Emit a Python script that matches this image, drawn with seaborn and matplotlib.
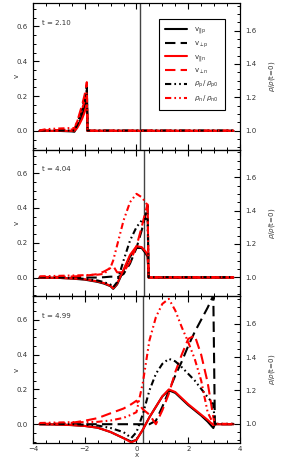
import numpy as np
import matplotlib
matplotlib.use("Agg")
import matplotlib.pyplot as plt
import seaborn as sns
from matplotlib.ticker import MultipleLocator

# times shown in the three panels and position of the vertical marker
times = ["2.10", "4.04", "4.99"]
marker_x = [0.14, 0.30, 0.26]

# panel 1 (t = 2.10)
x1 = [-3.75, -3.5, -3.0, -2.5, -2.4, -2.3, -2.2, -2.1, -2.0, -1.95, -1.92, -1.89, -1.5, -1.0, 0.0, 1.0, 2.0, 3.0, 3.75]
vpar_p1 = [0, 0, 0, -0.003, -0.005, 0.02, 0.05, 0.09, 0.14, 0.18, 0.2, 0, 0, 0, 0, 0, 0, 0, 0]
vperp_p1 = [0, 0, 0, 0, 0.005, 0.04, 0.08, 0.13, 0.19, 0.23, 0.26, 0, 0, 0, 0, 0, 0, 0, 0]
vpar_n1 = [0, 0, 0, 0, 0, 0.015, 0.04, 0.07, 0.11, 0.14, 0.15, 0, 0, 0, 0, 0, 0, 0, 0]
vperp_n1 = [0, 0.003, 0.005, 0.008, 0.01, 0.05, 0.1, 0.15, 0.21, 0.25, 0.28, 0, 0, 0, 0, 0, 0, 0, 0]
rho_p1 = [1, 1, 1, 1, 1, 1.03, 1.07, 1.11, 1.17, 1.21, 1.24, 1, 1, 1, 1, 1, 1, 1, 1]
rho_n1 = [1, 1.008, 1.012, 1.015, 1.015, 1.05, 1.09, 1.13, 1.18, 1.21, 1.23, 1, 1, 1, 1, 1, 1, 1, 1]

# panel 2 (t = 4.04)
x2 = [-3.75, -3.0, -2.5, -2.0, -1.5, -1.25, -1.0, -0.9, -0.75, -0.5, -0.25, 0.0, 0.2, 0.35, 0.43, 0.47, 1.0, 2.0, 3.0, 3.75]
vpar_p2 = [0, -0.002, -0.006, -0.012, -0.025, -0.035, -0.05, -0.065, -0.04, 0.04, 0.12, 0.17, 0.17, 0.14, 0.12, 0, 0, 0, 0, 0]
vperp_p2 = [0, 0, 0, 0, 0, 0.002, 0.005, 0.005, 0.0, 0.02, 0.08, 0.17, 0.27, 0.36, 0.41, 0, 0, 0, 0, 0]
vpar_n2 = [0, -0.002, -0.005, -0.01, -0.022, -0.032, -0.048, -0.062, -0.035, 0.045, 0.13, 0.18, 0.175, 0.15, 0.13, 0, 0, 0, 0, 0]
vperp_n2 = [0.003, 0.004, 0.006, 0.01, 0.02, 0.035, 0.055, 0.067, 0.03, 0.03, 0.09, 0.18, 0.29, 0.38, 0.42, 0, 0, 0, 0, 0]
rho_p2 = [1, 0.998, 0.995, 0.99, 0.98, 0.97, 0.955, 0.94, 0.97, 1.1, 1.22, 1.3, 1.34, 1.35, 1.35, 1, 1, 1, 1, 1]
rho_n2 = [1.005, 1.008, 1.01, 1.012, 1.015, 1.02, 1.06, 1.1, 1.19, 1.34, 1.45, 1.5, 1.48, 1.45, 1.43, 1, 1, 1, 1, 1]

# panel 3 (t = 4.99)
x3 = [-3.75, -3.0, -2.5, -2.0, -1.5, -1.0, -0.5, -0.2, 0.0, 0.25, 0.5, 0.75, 1.0, 1.25, 1.5, 1.75, 2.0, 2.25, 2.5, 2.75, 2.97, 3.03, 3.4, 3.75]
vpar_p3 = [0, -0.002, -0.005, -0.01, -0.02, -0.045, -0.08, -0.1, -0.09, -0.03, 0.04, 0.1, 0.16, 0.195, 0.18, 0.145, 0.11, 0.08, 0.05, 0.015, -0.022, 0, 0, 0]
vperp_p3 = [0, 0, 0, 0, 0, 0, 0, 0, 0, 0, 0, 0.02, 0.1, 0.19, 0.28, 0.36, 0.45, 0.53, 0.6, 0.67, 0.74, 0, 0, 0]
vpar_n3 = [0, -0.002, -0.005, -0.01, -0.02, -0.045, -0.08, -0.105, -0.09, -0.03, 0.04, 0.1, 0.16, 0.2, 0.185, 0.15, 0.115, 0.085, 0.055, 0.025, -0.005, 0, 0, 0]
vperp_n3 = [0.002, 0.004, 0.008, 0.02, 0.035, 0.063, 0.09, 0.115, 0.135, 0.085, 0.055, 0.0, 0.08, 0.175, 0.3, 0.4, 0.49, 0.51, 0.4, 0.24, 0.04, 0, 0, 0]
rho_p3 = [1, 1, 0.998, 0.995, 0.99, 0.975, 0.95, 0.915, 0.95, 1.06, 1.2, 1.3, 1.36, 1.39, 1.375, 1.34, 1.3, 1.26, 1.21, 1.16, 1.12, 1, 1, 1]
rho_n3 = [1.005, 1.008, 1.01, 1.01, 1.012, 1.02, 1.036, 1.055, 1.07, 1.25, 1.5, 1.64, 1.72, 1.75, 1.68, 1.58, 1.49, 1.39, 1.26, 1.07, 1.0, 1.0, 1.0, 1.0]

xs = [x1, x2, x3]
vpar_p = [vpar_p1, vpar_p2, vpar_p3]
vperp_p = [vperp_p1, vperp_p2, vperp_p3]
vpar_n = [vpar_n1, vpar_n2, vpar_n3]
vperp_n = [vperp_n1, vperp_n2, vperp_n3]
rho_p = [rho_p1, rho_p2, rho_p3]
rho_n = [rho_n1, rho_n2, rho_n3]

labels = [r"v$_{||\mathrm{p}}$", r"v$_{\perp\mathrm{p}}$", r"v$_{||\mathrm{n}}$", r"v$_{\perp\mathrm{n}}$",
          r"$\rho_\mathrm{p}\,/\,\rho_\mathrm{p0}$", r"$\rho_\mathrm{n}\,/\,\rho_\mathrm{n0}$"]

sns.set_style("ticks")
plt.rcParams.update({
    "font.family": ["DejaVu Sans"],
    "font.size": 5,
    "xtick.direction": "in",
    "ytick.direction": "in",
    "xtick.major.size": 4.5,
    "ytick.major.size": 4.5,
    "xtick.minor.size": 2.3,
    "ytick.minor.size": 2.3,
    "xtick.major.width": 0.8,
    "ytick.major.width": 0.8,
    "xtick.minor.width": 0.7,
    "ytick.minor.width": 0.7,
    "xtick.major.pad": 2.5,
    "ytick.major.pad": 4,
    "axes.linewidth": 0.8,
    "axes.edgecolor": "black",
    "text.color": "#333333",
    "xtick.color": "black",
    "ytick.color": "black",
    "xtick.labelcolor": "#333333",
    "ytick.labelcolor": "#333333",
    "axes.labelcolor": "#333333",
})

fig, axes = plt.subplots(3, 1, figsize=(2.93, 4.63), dpi=100, sharex=True)
fig.subplots_adjust(left=0.1126, right=0.819, top=0.9935, bottom=0.0432, hspace=0)

lw = 1.5
dash = (0, (5, 2.5))
dashdot = (0, (3, 1.5, 0.8, 1.5, 0.8, 1.5))

for i, ax in enumerate(axes):
    x = np.array(xs[i])
    ax2 = ax.twinx()
    ax.axvline(marker_x[i], color="#444444", lw=1.0, zorder=0)
    sns.lineplot(x=x, y=vpar_p[i], ax=ax, color="black", lw=lw, linestyle="-", estimator=None, sort=False, legend=False)
    sns.lineplot(x=x, y=vperp_p[i], ax=ax, color="black", lw=lw, linestyle=dash, estimator=None, sort=False, legend=False)
    sns.lineplot(x=x, y=vpar_n[i], ax=ax, color="red", lw=lw, linestyle="-", estimator=None, sort=False, legend=False)
    sns.lineplot(x=x, y=vperp_n[i], ax=ax, color="red", lw=lw, linestyle=dash, estimator=None, sort=False, legend=False)
    sns.lineplot(x=x, y=rho_p[i], ax=ax2, color="black", lw=lw, linestyle=dashdot, estimator=None, sort=False, legend=False)
    sns.lineplot(x=x, y=rho_n[i], ax=ax2, color="red", lw=lw, linestyle=dashdot, estimator=None, sort=False, legend=False)

    ax.set_xlim(-4, 4)
    ax.set_ylim(-0.108, 0.735)
    ax2.set_ylim(0.885, 1.765)
    ax.xaxis.set_major_locator(MultipleLocator(2))
    ax.xaxis.set_minor_locator(MultipleLocator(0.5))
    ax.yaxis.set_major_locator(MultipleLocator(0.2))
    ax.yaxis.set_minor_locator(MultipleLocator(0.05))
    ax2.yaxis.set_major_locator(MultipleLocator(0.2))
    ax2.yaxis.set_minor_locator(MultipleLocator(0.05))
    ax.tick_params(which="both", top=True, right=False)
    ax2.tick_params(which="both", right=True, left=False)
    ax.set_ylabel("v")
    ax.yaxis.set_label_coords(-0.062, 0.5)
    ax2.set_ylabel(r"$\rho/\rho$(t=0)")
    ax2.yaxis.set_label_coords(1.13, 0.5)
    ax.set_xlabel("x" if i == 2 else "", labelpad=0)
    ax.text(0.045, 0.865, "t = " + times[i], transform=ax.transAxes, ha="left", va="center")

    if i == 0:
        handles = ax.get_lines()[1:] + ax2.get_lines()
        leg = ax2.legend(handles, labels, loc="upper right", bbox_to_anchor=(0.945, 0.915),
                         fancybox=False, edgecolor="black", framealpha=1, handlelength=3.2,
                         labelspacing=0.45, borderpad=0.9, handletextpad=1.0)
        leg.get_frame().set_linewidth(0.8)

fig.savefig("out.png", dpi=100)
